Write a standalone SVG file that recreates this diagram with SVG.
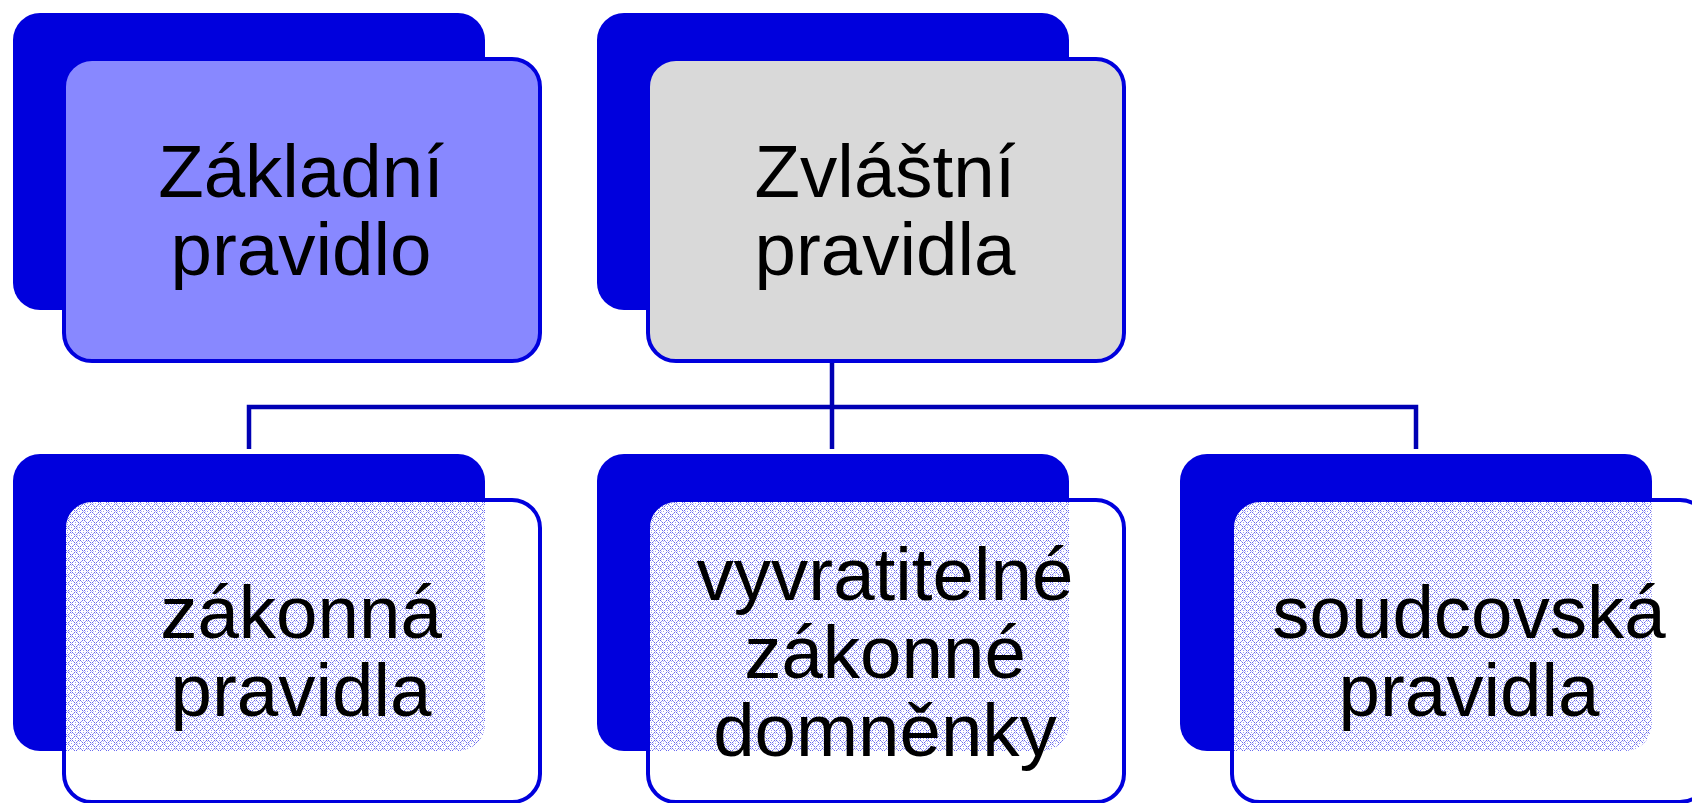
<svg xmlns="http://www.w3.org/2000/svg" width="1692" height="803" viewBox="0 0 1692 803">
  <style>
    .back { fill: #0000dd; }
    .front { stroke: #0000dd; stroke-width: 4; }
    .outline { fill: none; stroke: #0000dd; stroke-width: 4; }
    .label { font-family: "Liberation Sans", Arial, sans-serif; font-size: 74.5px; fill: #000000; text-anchor: middle; }
    .conn { fill: none; stroke: #0000b4; stroke-width: 4.5; stroke-linecap: butt; }
  </style>
  <defs>
    <pattern id="dots" x="0" y="0" width="8" height="8" patternUnits="userSpaceOnUse">
      <rect width="8" height="8" fill="#ffffff"/>
      <g shape-rendering="crispEdges" fill="#6a6aee">
        <rect x="2" y="0" width="1" height="1"/>
        <rect x="4" y="0" width="1" height="1"/>
        <rect x="1" y="1" width="1" height="1" fill="#9c9cf2"/>
        <rect x="5" y="1" width="1" height="1" fill="#9c9cf2"/>
        <rect x="0" y="2" width="1" height="1"/>
        <rect x="6" y="2" width="1" height="1"/>
        <rect x="3" y="2" width="1" height="1" fill="#9c9cf2"/>
        <rect x="0" y="4" width="1" height="1"/>
        <rect x="6" y="4" width="1" height="1"/>
        <rect x="3" y="4" width="1" height="1" fill="#9c9cf2"/>
        <rect x="1" y="5" width="1" height="1" fill="#9c9cf2"/>
        <rect x="5" y="5" width="1" height="1" fill="#9c9cf2"/>
        <rect x="2" y="6" width="1" height="1"/>
        <rect x="4" y="6" width="1" height="1"/>
        <rect x="7" y="7" width="1" height="1" fill="#9c9cf2"/>
        <rect x="3" y="7" width="1" height="1" fill="#c0c0f6"/>
        <rect x="7" y="3" width="1" height="1" fill="#c0c0f6"/>
        <rect x="5" y="7" width="1" height="1" fill="#c0c0f6"/>
        <rect x="7" y="5" width="1" height="1" fill="#c0c0f6"/>
      </g>
    </pattern>
    <clipPath id="clipB1"><rect x="64" y="500" width="476" height="302" rx="28"/></clipPath>
    <clipPath id="clipB2"><rect x="648" y="500" width="476" height="302" rx="28"/></clipPath>
    <clipPath id="clipB3"><rect x="1232" y="500" width="476" height="302" rx="28"/></clipPath>
  </defs>

  <g id="connectors">
    <path class="conn" d="M832 361 V407"/>
    <path class="conn" d="M249 449 V407 H1416 V449"/>
    <path class="conn" d="M832 407 V449"/>
  </g>

  <g id="node-zakladni">
    <rect class="back" x="13" y="13" width="472" height="297" rx="27"/>
    <rect class="front" x="64" y="59" width="476" height="302" rx="28" fill="#8888ff"/>
    <text class="label" x="301" y="197">Základní</text>
    <text class="label" x="301" y="274.5">pravidlo</text>
  </g>

  <g id="node-zvlastni">
    <rect class="back" x="597" y="13" width="472" height="297" rx="27"/>
    <rect class="front" x="648" y="59" width="476" height="302" rx="28" fill="#d9d9d9"/>
    <text class="label" x="885" y="197">Zvláštní</text>
    <text class="label" x="885" y="274.5">pravidla</text>
  </g>

  <g id="node-zakonna">
    <rect class="back" x="13" y="454" width="472" height="297" rx="27"/>
    <rect x="64" y="500" width="476" height="302" rx="28" fill="#ffffff"/>
    <rect x="13" y="454" width="472" height="297" rx="27" fill="url(#dots)" clip-path="url(#clipB1)"/>
    <rect class="outline" x="64" y="500" width="476" height="302" rx="28"/>
    <text class="label" x="301" y="638">zákonná</text>
    <text class="label" x="301" y="715.5">pravidla</text>
  </g>

  <g id="node-domnenky">
    <rect class="back" x="597" y="454" width="472" height="297" rx="27"/>
    <rect x="648" y="500" width="476" height="302" rx="28" fill="#ffffff"/>
    <rect x="597" y="454" width="472" height="297" rx="27" fill="url(#dots)" clip-path="url(#clipB2)"/>
    <rect class="outline" x="648" y="500" width="476" height="302" rx="28"/>
    <text class="label" x="885" y="600">vyvratitelné</text>
    <text class="label" x="885" y="678">zákonné</text>
    <text class="label" x="885" y="756">domněnky</text>
  </g>

  <g id="node-soudcovska">
    <rect class="back" x="1180" y="454" width="472" height="297" rx="27"/>
    <rect x="1232" y="500" width="476" height="302" rx="28" fill="#ffffff"/>
    <rect x="1180" y="454" width="472" height="297" rx="27" fill="url(#dots)" clip-path="url(#clipB3)"/>
    <rect class="outline" x="1232" y="500" width="476" height="302" rx="28"/>
    <text class="label" x="1469" y="638">soudcovská</text>
    <text class="label" x="1469" y="715.5">pravidla</text>
  </g>
</svg>
